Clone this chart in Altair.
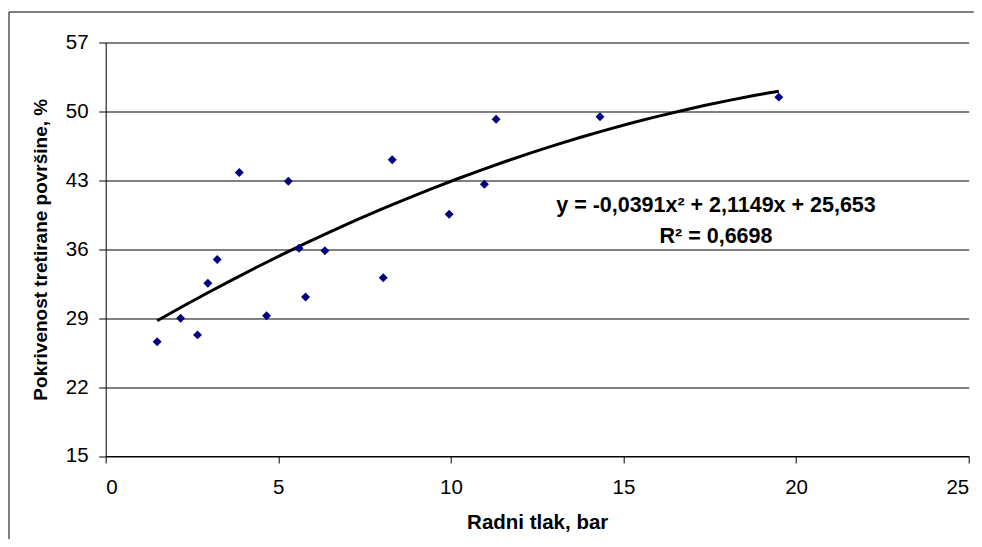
import altair as alt
import pandas as pd

# ---- data ----
pressure = [1.49, 2.17, 2.66, 2.96, 3.23, 3.87, 4.66, 5.29, 5.60, 5.79,
            6.35, 8.04, 8.30, 9.95, 10.97, 11.31, 14.32, 19.50]
coverage = [26.6, 29.0, 27.3, 32.55, 34.95, 43.8, 29.25, 42.9, 36.1, 31.15,
            35.85, 33.1, 45.1, 39.55, 42.6, 49.2, 49.45, 51.45]
x_ticks = [0, 5, 10, 15, 20, 25]
y_ticks = [15, 22, 29, 36, 43, 50, 57]
x_title = "Radni tlak, bar"
y_title = "Pokrivenost tretirane površine, %"
eq_lines = ["y = -0,0391x² + 2,1149x + 25,653", "R² = 0,6698"]

df = pd.DataFrame({"x": pressure, "y": coverage})

W, H = 863, 413.5
PAD = {"left": 97.7, "top": 34.5, "right": 5, "bottom": 83}
FONT = "Liberation Sans"

x_enc = alt.X("x:Q", scale=alt.Scale(domain=[0, 25], nice=False, zero=False),
              axis=alt.Axis(values=x_ticks, title=x_title, grid=False,
                            labelPadding=14.5, titlePadding=15,
                            titleFontSize=20.5))
y_enc = alt.Y("y:Q", scale=alt.Scale(domain=[15, 57], nice=False, zero=False),
              axis=alt.Axis(values=y_ticks, title=y_title, grid=True,
                            labelPadding=10.6, titlePadding=14.5,
                            titleFontSize=19))

base = alt.Chart(df)

points = base.mark_point(shape="diamond", filled=True, color="#000080",
                         size=80, opacity=1).encode(x=x_enc, y=y_enc)

trend = base.transform_regression("x", "y", method="poly", order=2).mark_line(
    color="black", strokeWidth=3).encode(x="x:Q", y="y:Q")

eq1 = alt.Chart(pd.DataFrame({"t": [eq_lines[0]]})).mark_text(
    font=FONT, fontSize=21.5, fontWeight="bold", color="black",
    align="center", baseline="alphabetic").encode(
    text="t:N", x=alt.value(610.3), y=alt.value(169.5))
eq2 = alt.Chart(pd.DataFrame({"t": [eq_lines[1]]})).mark_text(
    font=FONT, fontSize=21.5, fontWeight="bold", color="black",
    align="center", baseline="alphabetic").encode(
    text="t:N", x=alt.value(610.3), y=alt.value(200.8))

frame = alt.Chart(pd.DataFrame({"a": [0]}))
border_top = frame.mark_rule(color="black", strokeWidth=1).encode(
    x=alt.value(-96.7), x2=alt.value(W + PAD["right"]), y=alt.value(-30.5))
border_left = frame.mark_rule(color="black", strokeWidth=1).encode(
    x=alt.value(-96.7), y=alt.value(-30.5), y2=alt.value(H + PAD["bottom"]))

chart = alt.layer(border_top, border_left, trend, points, eq1, eq2).properties(
    width=W, height=H,
    autosize=alt.AutoSizeParams(type="none"),
    padding=PAD,
    background="white",
).configure_view(stroke=None).configure_axis(
    labelFont=FONT, titleFont=FONT, labelFontSize=20.5,
    titleFontWeight="bold", labelColor="black", titleColor="black",
    domainColor="black", tickColor="black", tickSize=7, gridColor="black",
    gridWidth=1, domainWidth=1, tickWidth=1, gridOpacity=1,
)

chart.save("out.html", embed_options={"renderer": "svg", "actions": False})
